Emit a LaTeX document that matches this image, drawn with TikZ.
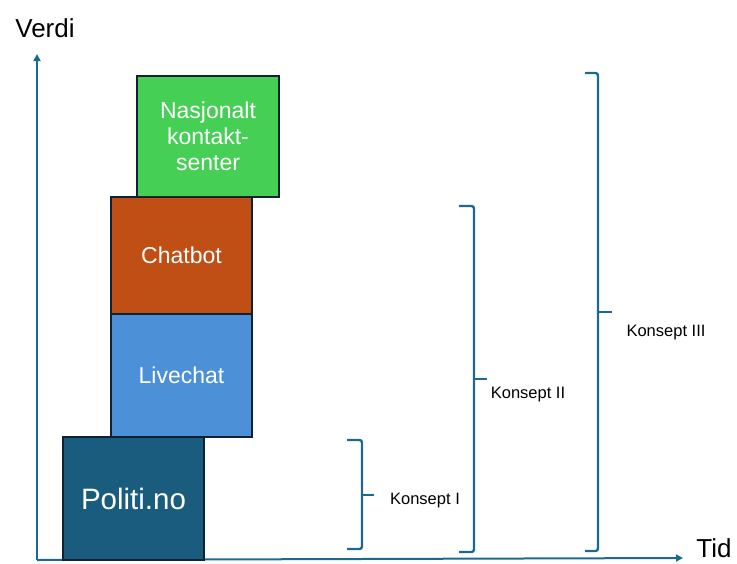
\documentclass[tikz,border=0pt]{standalone}
\usepackage{fontspec}
\setmainfont{Liberation Sans}
\usetikzlibrary{arrows.meta}
\definecolor{axiscol}{HTML}{1D6A90}
\definecolor{boxline}{HTML}{0F2233}
\definecolor{cgreen}{HTML}{46CF55}
\definecolor{corange}{HTML}{C04F15}
\definecolor{cblue}{HTML}{4C91D8}
\definecolor{cdark}{HTML}{195C7E}
\begin{document}
\begin{tikzpicture}[x=1pt,y=-1pt,
  box/.style={draw=boxline,line width=2pt,text=white,align=center,inner sep=0pt},
  brace/.style={draw=axiscol,line width=2.4pt,rounded corners=2.5pt},
  tick/.style={draw=axiscol,line width=2.4pt},
  axis/.style={draw=axiscol,line width=2pt,-{Triangle[length=7pt,width=7pt]}},
  lbl/.style={font=\fontsize{16.5}{19}\selectfont,text=black,inner sep=0pt}]
\useasboundingbox (0,0) rectangle (737,563);
% axes
\coordinate (o) at (37,560);
\coordinate (ytop) at (37,54);
\coordinate (xend) at (683,558);
\draw[axis] (o) -- (ytop);
\draw[axis] (o) -- (xend);
\node[font=\fontsize{26}{30}\selectfont,inner sep=0pt] (verdi) at (45,28) {Verdi};
\node[font=\fontsize{26}{30}\selectfont,inner sep=0pt] (tid) at (714,548) {Tid};
% boxes
\node[box,fill=cgreen,minimum width=142pt,minimum height=121pt,font=\fontsize{23}{26}\selectfont] (nks) at (208,136.5) {Nasjonalt\\kontakt-\\senter};
\node[box,fill=corange,minimum width=141pt,minimum height=117pt,font=\fontsize{23}{26}\selectfont] (chat) at (181.5,255.5) {Chatbot};
\node[box,fill=cblue,minimum width=141pt,minimum height=123pt,font=\fontsize{23}{26}\selectfont] (live) at (181.5,375.5) {Livechat};
\node[box,fill=cdark,minimum width=141pt,minimum height=123pt,font=\fontsize{29.5}{33}\selectfont] (pol) at (133.5,498.5) {Politi.no};
% braces
\draw[brace] (347,440) -- (362,440) -- (362,495) -- (362,549) -- (347,549);
\draw[tick] (362,495) -- (374,495);
\node[lbl] (k1) at (425,501) {Konsept I};
\draw[brace] (459,206) -- (474,206) -- (474,379) -- (474,552) -- (459,552);
\draw[tick] (474,379) -- (487,379);
\node[lbl] (k2) at (528,395) {Konsept II};
\draw[brace] (585,73) -- (598,73) -- (598,312) -- (598,551) -- (585,551);
\draw[tick] (598,312) -- (612,312);
\node[lbl] (k3) at (666,333) {Konsept III};
\end{tikzpicture}
\end{document}
